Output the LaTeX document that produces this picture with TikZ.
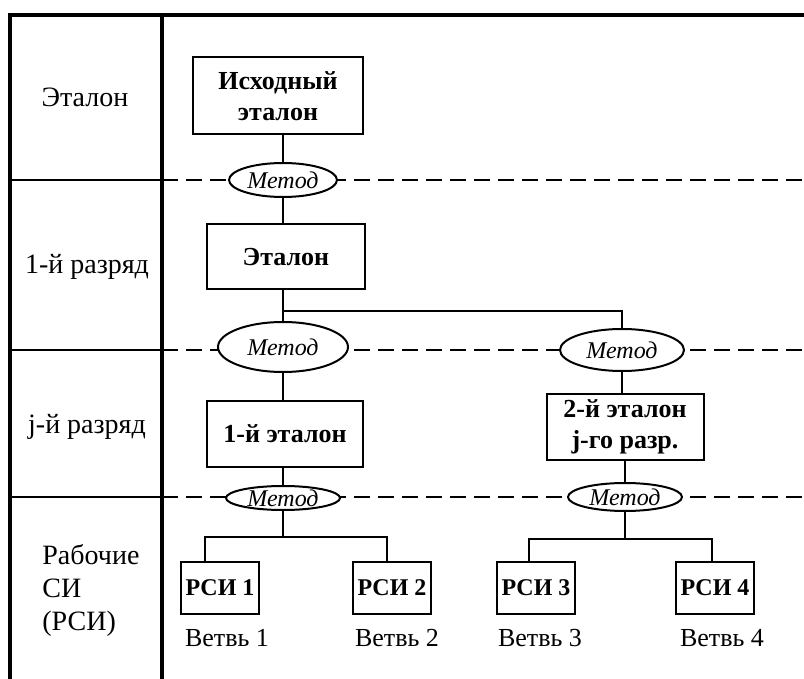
\documentclass[tikz,border=0pt]{standalone}
\usepackage{fontspec}
\setmainfont{Liberation Serif}
\usetikzlibrary{shapes.geometric}
\begin{document}
\begin{tikzpicture}[x=0.5pt,y=-0.5pt,
  frame/.style={line width=2pt},
  sep/.style={line width=1.2pt},
  divline/.style={line width=1.1pt, dash pattern=on 8pt off 4pt},
  conn/.style={line width=1pt},
  box/.style={draw, line width=1pt, fill=white, inner sep=0pt, align=center,
    font=\fontsize{13}{15.5}\selectfont\bfseries},
  rsi/.style={draw, line width=1pt, fill=white, inner sep=0pt,
    minimum width=39pt, minimum height=26pt, font=\fontsize{12}{14}\selectfont\bfseries},
  met/.style={draw, ellipse, line width=1pt, fill=white, inner sep=0pt,
    font=\fontsize{12}{14}\selectfont\itshape},
  lab/.style={font=\fontsize{14}{16.5}\selectfont},
  branch/.style={font=\fontsize{13}{15}\selectfont}
]
\useasboundingbox (0,0) rectangle (804,679);
% frame
\coordinate (tl) at (10,15);
\coordinate (tr) at (804,15);
\coordinate (bl) at (10,679);
\coordinate (dt) at (162,15);
\coordinate (db) at (162,679);
\draw[frame] (tr) -- (tl) -- (bl);
\draw[frame] (dt) -- (db);
% row separators (left column solid)
\foreach \y/\n in {180/a,350/b,497/c}{
  \coordinate (l\n) at (10,\y);
  \coordinate (m\n) at (162,\y);
  \coordinate (r\n) at (804,\y);
  \draw[sep] (l\n) -- (m\n);
  \draw[divline] (m\n) -- (r\n);
}
% left labels
\node[lab] (L1) at (85,97) {Эталон};
\node[lab] (L2) at (87,267) {1-й разряд};
\node[lab] (L3) at (87,427) {j-й разряд};
\node[lab, align=left, anchor=west, inner xsep=0pt] (L4) at (42,590) {Рабочие\\СИ\\(РСИ)};
% nodes
\node[box, minimum width=85pt, minimum height=38.5pt] (src) at (278,96) {Исходный\\эталон};
\node[met, minimum width=54pt, minimum height=17pt] (m1) at (283,180) {Метод};
\node[box, minimum width=79pt, minimum height=32.5pt] (et) at (286,257) {Эталон};
\node[met, minimum width=65pt, minimum height=25pt] (m2) at (283,347) {Метод};
\node[met, minimum width=62pt, minimum height=21pt] (m3) at (622,350) {Метод};
\node[box, minimum width=78pt, minimum height=33pt] (e1) at (285,434) {1-й эталон};
\node[box, minimum width=78.5pt, minimum height=33pt] (e2) at (625,427) {2-й эталон\\j-го разр.};
\node[met, minimum width=57pt, minimum height=12pt] (m4) at (283,498) {Метод};
\node[met, minimum width=57pt, minimum height=14pt] (m5) at (625,497) {Метод};
\node[rsi] (r1) at (220,588) {РСИ 1};
\node[rsi] (r2) at (392,588) {РСИ 2};
\node[rsi] (r3) at (536,588) {РСИ 3};
\node[rsi] (r4) at (715,588) {РСИ 4};
\node[branch] (b1) at (227,638) {Ветвь 1};
\node[branch] (b2) at (397,638) {Ветвь 2};
\node[branch] (b3) at (540,638) {Ветвь 3};
\node[branch] (b4) at (722,638) {Ветвь 4};
% connectors
\draw[conn] (src.south -| m1) -- (m1.north);
\draw[conn] (m1.south) -- (m1.south |- et.north);
\coordinate (j1) at (283,311);
\draw[conn] (et.south -| j1) -- (j1) -- (m2.north);
\draw[conn] (j1) -- (j1 -| m3) -- (m3.north);
\draw[conn] (m2.south) -- (m2.south |- e1.north);
\draw[conn] (m3.south) -- (m3.south |- e2.north);
\draw[conn] (e1.south -| m4) -- (m4.north);
\draw[conn] (e2.south -| m5) -- (m5.north);
% branches
\coordinate (j2) at (283,537);
\coordinate (k1) at (205,537);
\coordinate (k2) at (387,537);
\draw[conn] (m4.south) -- (j2);
\draw[conn] (r1.north -| k1) -- (k1) -- (k2) -- (k2 |- r2.north);
\coordinate (j3) at (625,539);
\coordinate (k3) at (529,539);
\coordinate (k4) at (712,539);
\draw[conn] (m5.south) -- (j3);
\draw[conn] (r3.north -| k3) -- (k3) -- (k4) -- (k4 |- r4.north);
\end{tikzpicture}
\end{document}
